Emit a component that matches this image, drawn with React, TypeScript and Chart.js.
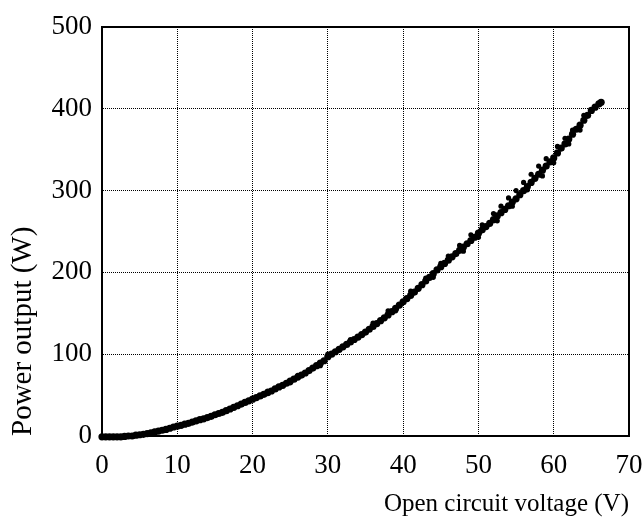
import React, { useEffect, useRef } from "react";
import { Chart, registerables } from "chart.js";

Chart.register(...registerables);

const xTicks = [0, 10, 20, 30, 40, 50, 60, 70];
const yTicks = [0, 100, 200, 300, 400, 500];

// Main measured curve: open circuit voltage (V) and power output (W)
const voltage = [
  0, 0.5, 1, 1.5, 2, 2.5, 3, 3.5, 4, 4.5, 5, 5.5, 6, 6.5, 7, 7.5, 8, 8.5, 9, 9.5,
  10, 10.5, 11, 11.5, 12, 12.5, 13, 13.5, 14, 14.5, 15, 15.5, 16, 16.5, 17, 17.5, 18, 18.5, 19, 19.5,
  20, 20.5, 21, 21.5, 22, 22.5, 23, 23.5, 24, 24.5, 25, 25.5, 26, 26.5, 27, 27.5, 28, 28.5, 29, 29.5,
  30, 30.5, 31, 31.5, 32, 32.5, 33, 33.5, 34, 34.5, 35, 35.5, 36, 36.5, 37, 37.5, 38, 38.5, 39, 39.5,
  40, 40.5, 41, 41.5, 42, 42.5, 43, 43.5, 44, 44.5, 45, 45.5, 46, 46.5, 47, 47.5, 48, 48.5, 49, 49.5,
  50, 50.5, 51, 51.5, 52, 52.5, 53, 53.5, 54, 54.5, 55, 55.5, 56, 56.5, 57, 57.5, 58, 58.5, 59, 59.5,
  60, 60.5, 61, 61.5, 62, 62.5, 63, 63.5, 64, 64.5, 65, 65.5, 66, 66.3,
];
const power = [
  -1, -1, -1, -1, -1, -1, -0.5, 0, 0, 1, 1.5, 2, 3, 4, 5, 6, 7, 8, 9.5, 11,
  12, 13, 14.5, 15.5, 17, 18.5, 20, 21, 22.5, 24, 26, 27.5, 29, 31, 33, 35, 37, 39, 41, 43,
  45, 47, 49, 51, 53, 55, 57.5, 60, 62, 64.5, 67, 69.5, 72, 74.5, 77, 80, 83, 86, 89, 92,
  97, 100, 103, 106, 109, 112, 115, 118, 121, 124, 127, 130.5, 134, 137.5, 141, 144.5, 148, 152, 156, 160,
  164, 168, 172, 176, 180.5, 185, 189.5, 194, 198.5, 203, 207, 211, 215, 219, 223, 227, 231, 235, 239, 243,
  248, 252, 256, 260, 264.5, 269, 273, 277, 281.5, 286, 290, 295, 300, 305, 310, 315, 320, 325, 330, 335,
  340, 346, 352, 357, 363, 369, 375, 380, 386, 392, 398, 402, 406, 408,
];

// Scattered readings lying slightly off the main curve
const spreadVoltage = [
  22, 26, 30, 33, 36, 38, 41, 43, 45, 46, 47.5, 49, 50.5, 52, 53, 54, 55, 56, 57, 58, 59, 60.5, 61.5, 62.5, 64,
  25, 29, 34, 39, 44, 48, 50, 52.5, 54.5, 56.5, 58.5, 60, 62, 63.5,
];
const spreadPower = [
  55, 74, 100, 118, 138, 153, 177, 193, 211, 220, 233, 246, 258, 272, 281, 291, 300, 310, 320, 330, 339, 354, 364, 374, 392,
  65, 86, 120, 153, 194, 226, 243, 263, 281, 301, 318, 334, 357, 374,
];

export default function App() {
  const ref = useRef<HTMLCanvasElement>(null);

  useEffect(() => {
    if (!ref.current) return;
    const boxPlugin = {
      id: "box",
      afterDraw(chart: any) {
        const { ctx, chartArea } = chart;
        ctx.save();
        ctx.strokeStyle = "#000";
        ctx.lineWidth = 2;
        ctx.strokeRect(chartArea.left, chartArea.top, chartArea.right - chartArea.left, chartArea.bottom - chartArea.top);
        ctx.restore();
      },
    };
    const family = "'Liberation Serif', 'Times New Roman', serif";
    const tickFont = { family, size: 27 };
    const chart = new Chart(ref.current, {
      type: "scatter",
      data: {
        datasets: [
          {
            label: "main",
            data: voltage.map((v, i) => ({ x: v, y: power[i] })),
            backgroundColor: "#000",
            borderColor: "#000",
            pointRadius: 3.6,
            pointBorderWidth: 0,
            clip: 6,
          },
          {
            label: "spread",
            data: spreadVoltage.map((v, i) => ({ x: v, y: spreadPower[i] })),
            backgroundColor: "#000",
            borderColor: "#000",
            pointRadius: 2.6,
            pointBorderWidth: 0,
            clip: 6,
          },
        ],
      },
      options: {
        responsive: false,
        animation: false,
        layout: { padding: { top: 27, right: 14, left: 0, bottom: 0 } },
        plugins: { legend: { display: false }, tooltip: { enabled: false } },
        scales: {
          x: {
            type: "linear",
            min: 0,
            max: 70,
            afterBuildTicks: (s: any) => {
              s.ticks = xTicks.map((v) => ({ value: v }));
            },
            afterFit: (s: any) => {
              s.height = 83;
              s.paddingLeft = 0;
              s.paddingRight = 0;
            },
            ticks: { color: "#000", font: tickFont, padding: 14, maxRotation: 0 },
            grid: { color: "#000", lineWidth: 1, drawTicks: false },
            border: { display: true, color: "#000", width: 2, dash: [1, 1] },
            title: {
              display: true,
              text: "Open circuit voltage (V)",
              color: "#000",
              font: { family, size: 25 },
              align: "end",
              padding: { top: 0, bottom: 0 },
            },
          },
          y: {
            type: "linear",
            min: 0,
            max: 500,
            afterBuildTicks: (s: any) => {
              s.ticks = yTicks.map((v) => ({ value: v }));
            },
            afterFit: (s: any) => {
              s.width = 102;
              s.paddingTop = 0;
              s.paddingBottom = 0;
            },
            ticks: { color: "#000", font: tickFont, padding: 10 },
            grid: { color: "#000", lineWidth: 1, drawTicks: false },
            border: { display: true, color: "#000", width: 2, dash: [1, 1] },
            title: {
              display: true,
              text: "Power output (W)",
              color: "#000",
              font: { family, size: 29 },
              align: "start",
              padding: { top: 6, bottom: 0 },
            },
          },
        },
      },
      plugins: [boxPlugin],
    } as any);
    return () => chart.destroy();
  }, []);

  return (
    <div style={{ position: "absolute", left: 0, top: 0, width: 643, height: 519, background: "#fff" }}>
      <canvas ref={ref} width={643} height={519} />
    </div>
  );
}
